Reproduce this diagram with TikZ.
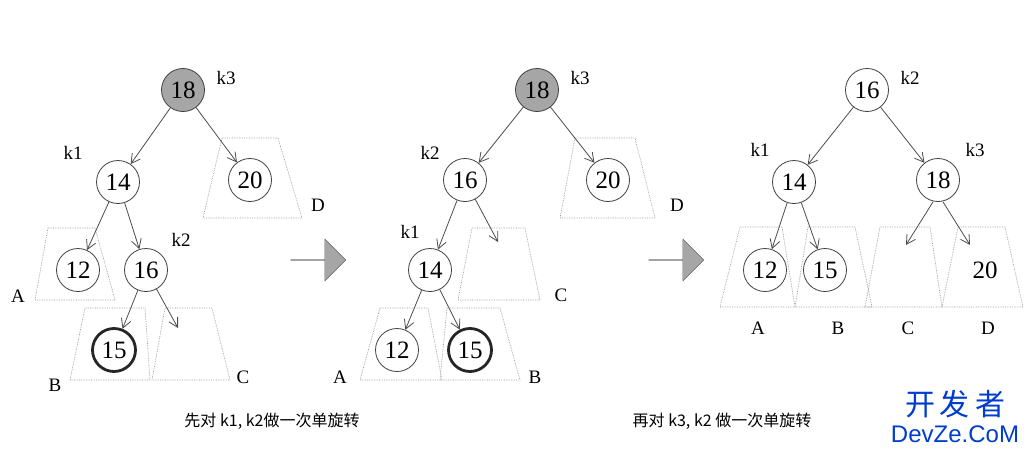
\documentclass[tikz,border=0pt]{standalone}
\usepackage{fontspec}
\setmainfont{Liberation Serif}
\newfontfamily\cjk{Noto Sans CJK SC}
\newfontfamily\wm{Liberation Sans}
\usetikzlibrary{arrows.meta,shapes.arrows}
\begin{document}
\begin{tikzpicture}[x=1pt,y=-1pt,
  nd/.style={circle,draw=black!75,line width=0.8pt,minimum size=43pt,inner sep=0pt,font=\fontsize{25}{25}\selectfont},
  hot/.style={nd,fill=black!35},
  thick15/.style={nd,line width=2.8pt,draw=black!85},
  lbl/.style={font=\fontsize{19}{19}\selectfont},
  edge/.style={draw=black!70,line width=0.8pt,-{Straight Barb[length=9pt,width=10pt]}},
  trap/.style={draw=black!40,densely dotted,line width=0.7pt},
  bigarrow/.style={single arrow,draw=black!60,fill=black!35,minimum height=55pt,minimum width=42pt,single arrow head extend=8pt,inner sep=0pt},
  captext/.style={font=\cjk\fontsize{16}{16}\selectfont}]
\useasboundingbox (0,0) rectangle (1036,455);
% ---- left tree
\draw[trap] (48,228)--(95,228)--(115,300)--(35,300)--cycle;
\draw[trap] (85,308)--(145,308)--(150,380)--(70,380)--cycle;
\draw[trap] (165,308)--(212,308)--(230,380)--(152,380)--cycle;
\draw[trap] (222,138)--(278,138)--(302,218)--(203,218)--cycle;
\node[hot] (a18) at (183,90) {18};
\node[nd] (a14) at (118,182) {14};
\node[nd] (a20) at (250,180) {20};
\node[nd] (a12) at (78,270) {12};
\node[nd] (a16) at (146,270) {16};
\node[thick15] (a15) at (114,350) {15};
\coordinate (aC) at (178,328);
\draw[edge] (a18)--(a14); \draw[edge] (a18)--(a20);
\draw[edge] (a14)--(a12); \draw[edge] (a14)--(a16);
\draw[edge] (a16)--(a15); \draw[edge] (a16)--(aC);
\node[lbl] (ak3) at (226,78) {k3};
\node[lbl] (ak1) at (73,153) {k1};
\node[lbl] (ak2) at (181,240) {k2};
\node[lbl] (aD) at (318,205) {D};
\node[lbl] (aA) at (18,296) {A};
\node[lbl] (aB) at (55,385) {B};
\node[lbl] (aCl) at (243,377) {C};
\node[bigarrow] (arr1) at (318,260) {};
% ---- middle tree
\draw[trap] (380,308)--(428,308)--(442,380)--(360,380)--cycle;
\draw[trap] (447,308)--(500,308)--(520,380)--(440,380)--cycle;
\draw[trap] (472,228)--(525,228)--(540,300)--(458,300)--cycle;
\draw[trap] (575,138)--(635,138)--(655,218)--(560,218)--cycle;
\node[hot] (b18) at (537,90) {18};
\node[nd] (b16) at (465,180) {16};
\node[nd] (b20) at (608,180) {20};
\node[nd] (b14) at (430,270) {14};
\node[nd] (b12) at (397,350) {12};
\node[thick15] (b15) at (470,350) {15};
\coordinate (bC) at (498,242);
\draw[edge] (b18)--(b16); \draw[edge] (b18)--(b20);
\draw[edge] (b16)--(b14); \draw[edge] (b16)--(bC);
\draw[edge] (b14)--(b12); \draw[edge] (b14)--(b15);
\node[lbl] (bk3) at (580,78) {k3};
\node[lbl] (bk2) at (430,153) {k2};
\node[lbl] (bk1) at (410,232) {k1};
\node[lbl] (bD) at (677,205) {D};
\node[lbl] (bCl) at (561,295) {C};
\node[lbl] (bA) at (340,377) {A};
\node[lbl] (bB) at (535,377) {B};
\node[bigarrow] (arr2) at (676,260) {};
% ---- right tree
\draw[trap] (740,227)--(782,227)--(795,307)--(720,307)--cycle;
\draw[trap] (808,227)--(855,227)--(872,307)--(795,307)--cycle;
\draw[trap] (880,227)--(930,227)--(942,307)--(865,307)--cycle;
\draw[trap] (958,227)--(1005,227)--(1023,307)--(942,307)--cycle;
\node[nd] (c16) at (867,90) {16};
\node[nd] (c14) at (794,182) {14};
\node[nd] (c18) at (938,180) {18};
\node[nd] (c12) at (765,270) {12};
\node[nd] (c15) at (825,270) {15};
\node[font=\fontsize{25}{25}\selectfont] (c20) at (985,270) {20};
\coordinate (cC) at (906,245);
\coordinate (cD) at (970,245);
\draw[edge] (c16)--(c14); \draw[edge] (c16)--(c18);
\draw[edge] (c14)--(c12); \draw[edge] (c14)--(c15);
\draw[edge] ([xshift=-5pt]c18.south)--(cC); \draw[edge] ([xshift=5pt]c18.south)--(cD);
\node[lbl] (ck2) at (910,78) {k2};
\node[lbl] (ck1) at (760,150) {k1};
\node[lbl] (ck3) at (975,150) {k3};
\node[lbl] (cA) at (758,328) {A};
\node[lbl] (cB) at (838,328) {B};
\node[lbl] (cCl) at (908,328) {C};
\node[lbl] (cDl) at (988,328) {D};
% ---- captions
\node[captext] (cap1) at (272,421) {先对 k1, k2做一次单旋转};
\node[captext] (cap2) at (722,421) {再对 k3, k2 做一次单旋转};
\node[font=\cjk\fontsize{30}{30}\selectfont,text=blue!70!cyan!80!black] (wm1) at (955,404) {开\,发\,者};
\node[font=\wm\fontsize{24}{24}\selectfont,text=blue!70!cyan!80!black] (wm2) at (955,434) {DevZe.CoM};
\end{tikzpicture}
\end{document}
